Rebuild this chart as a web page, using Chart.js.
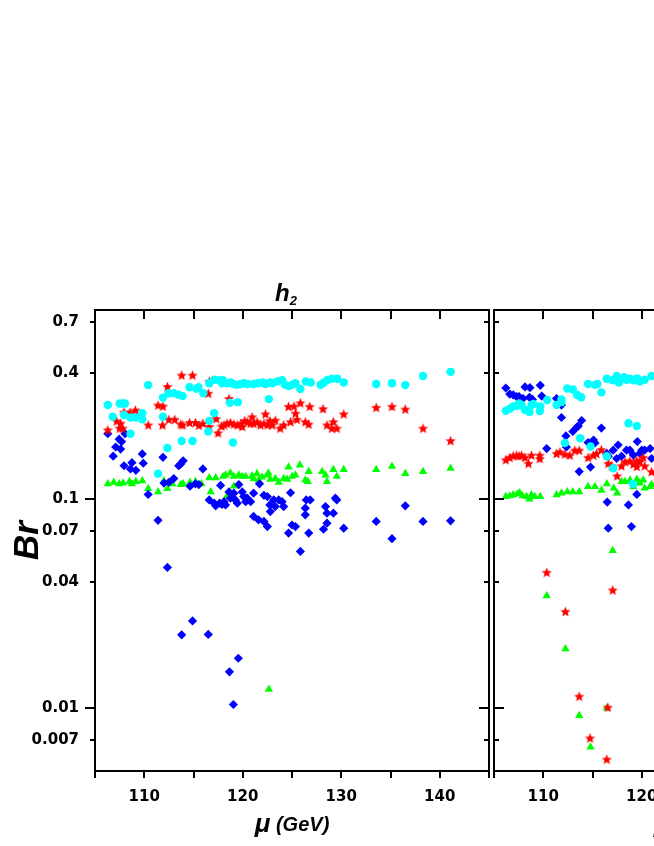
<!DOCTYPE html>
<html><head><meta charset="utf-8">
<script src="https://cdn.jsdelivr.net/npm/chart.js@4/dist/chart.umd.min.js"></script>
<style>
html,body{margin:0;padding:0;background:#fff;overflow:hidden;width:654px;height:846px;}
#wrap{position:relative;width:654px;height:846px;overflow:hidden;background:#fff;}
#wrap canvas{position:absolute;top:0;}
</style></head><body>
<div id="wrap">
<canvas id="c1" width="654" height="846" style="left:0px"></canvas>
<canvas id="c2" width="654" height="846" style="left:399px"></canvas>
</div>
<script>
// ---------- axes ----------
const xMin = 105, xMax = 145;
const yMin = 0.005, yMax = 0.8;
const xTickLabels = [110, 120, 130, 140];
const xTickMarks = [105, 110, 115, 120, 125, 130, 135, 140, 145];
const yTickLabels = [0.007, 0.01, 0.04, 0.07, 0.1, 0.4, 0.7];
const yDecades = [0.01, 0.1];

// ---------- left panel (h2) ----------
const h2Cyan = [[106.3,0.281],[106.8,0.247],[107.5,0.286],[107.8,0.286],[108.05,0.286],[107.95,0.252],[108.6,0.245],[109.1,0.245],[109.8,0.257],[109.8,0.240],[108.6,0.205],[110.4,0.350],[111.9,0.305],[112.45,0.32],[113.0,0.32],[113.5,0.315],[113.9,0.31],[114.6,0.342],[115.3,0.336],[115.5,0.342],[116.0,0.32],[116.6,0.357],[117.1,0.371],[117.6,0.369],[118.0,0.369],[111.9,0.247],[113.8,0.189],[114.9,0.189],[112.35,0.175],[111.4,0.132],[117.1,0.257],[116.6,0.236],[116.5,0.21],
[117.92,0.357],[118.43,0.357],[118.8,0.36],[119.1,0.354],[119.4,0.351],[119.78,0.354],[120.1,0.357],[120.5,0.354],[121.1,0.354],[121.5,0.357],[122.0,0.36],[122.3,0.354],[122.8,0.36],[123.0,0.357],[123.5,0.364],[124.0,0.369],[124.3,0.351],[124.7,0.346],[125.0,0.351],[125.35,0.357],[125.85,0.335],[126.4,0.364],[126.9,0.36],[127.9,0.351],[128.15,0.357],[128.55,0.369],[129.05,0.375],[129.6,0.375],[130.25,0.36],[118.7,0.288],[119.5,0.29],[122.65,0.30],[119.0,0.186],
[133.55,0.354],[135.15,0.357],[136.5,0.35],[138.3,0.387],[141.1,0.405]];
const h2Red = [[106.3,0.214],[107.2,0.236],[107.6,0.23],[107.5,0.218],[107.8,0.218],[107.95,0.26],[108.55,0.26],[109.1,0.266],[110.4,0.226],[111.4,0.281],[111.9,0.278],[112.35,0.345],[113.8,0.391],[114.9,0.391],[116.5,0.32],[116.6,0.365],[111.85,0.226],[112.5,0.24],[113.1,0.24],[113.7,0.228],[113.9,0.226],[114.6,0.232],[115.2,0.232],[115.55,0.225],[115.95,0.23],[116.6,0.222],[117.3,0.242],[117.5,0.207],[117.85,0.223],[118.1,0.226],
[118.4,0.23],[118.75,0.232],[119.1,0.228],[119.45,0.226],[119.8,0.23],[119.95,0.222],[120.2,0.237],[120.45,0.234],[120.8,0.23],[120.95,0.247],[121.1,0.23],[121.45,0.234],[121.8,0.226],[122.15,0.23],[122.3,0.255],[122.5,0.226],[122.75,0.237],[123.0,0.226],[123.3,0.238],[123.8,0.218],[124.15,0.226],[124.85,0.234],[125.35,0.257],[125.5,0.24],[125.85,0.288],[125.2,0.278],[124.65,0.277],[126.35,0.234],[126.7,0.228],[126.8,0.277],[128.15,0.27],[128.55,0.226],[129.2,0.234],[129.05,0.218],[129.55,0.218],[130.25,0.255],[118.6,0.302],
[133.55,0.274],[135.15,0.277],[136.5,0.269],[138.3,0.218],[141.1,0.19]];
const h2Green = [[106.3,0.118],[106.9,0.12],[107.45,0.118],[107.85,0.119],[108.5,0.121],[108.75,0.118],[109.15,0.121],[109.8,0.122],[110.4,0.112],[111.4,0.108],[112.0,0.122],[112.35,0.112],[112.85,0.118],[113.7,0.117],[113.95,0.118],[114.65,0.12],[115.2,0.121],[115.8,0.118],[116.6,0.126],[116.75,0.108],[117.25,0.126],[118.0,0.128],
[118.25,0.13],[118.75,0.133],[119.1,0.128],[119.6,0.13],[119.95,0.128],[120.3,0.128],[120.95,0.129],[121.1,0.125],[121.45,0.132],[121.6,0.123],[121.95,0.127],[122.5,0.13],[122.6,0.133],[122.8,0.124],[123.3,0.125],[123.65,0.12],[124.15,0.125],[124.5,0.124],[124.65,0.142],[125.0,0.128],[125.35,0.13],[125.8,0.145],[126.35,0.123],[126.6,0.121],[126.7,0.135],[128.05,0.135],[128.4,0.13],[128.55,0.121],[129.2,0.138],[129.55,0.128],[130.25,0.138],[119.1,0.115],[118.4,0.103],[119.0,0.104],
[133.55,0.138],[135.15,0.143],[136.5,0.132],[138.3,0.135],[141.1,0.14],[122.65,0.0123]];
const h2Blue = [[106.3,0.205],[107.45,0.193],[107.7,0.188],[108.05,0.205],[107.1,0.177],[107.6,0.173],[106.85,0.16],[107.95,0.144],[108.75,0.149],[108.6,0.139],[109.15,0.137],[109.9,0.148],[109.8,0.164],[111.9,0.158],[113.5,0.144],[113.95,0.152],[113.7,0.147],[115.95,0.139],[113.0,0.125],[112.0,0.119],[112.5,0.12],[110.4,0.105],[111.4,0.079],[114.65,0.115],[115.2,0.118],[115.55,0.117],[116.6,0.0989],[117.1,0.0954],[117.25,0.0926],[117.65,0.0954],[117.9,0.094],[117.75,0.116],[118.1,0.097],
[118.25,0.0936],[118.6,0.108],[118.75,0.1008],[119.1,0.1065],[119.25,0.0989],[119.45,0.0954],[119.6,0.117],[119.95,0.108],[120.1,0.1026],[120.3,0.097],[120.45,0.1008],[120.8,0.097],[121.1,0.1065],[121.7,0.118],[122.15,0.104],[122.5,0.1026],[122.75,0.0936],[122.8,0.087],[123.15,0.0989],[123.3,0.0919],[123.65,0.0989],[124.0,0.097],[124.15,0.0919],[124.85,0.107],[121.1,0.0824],[121.6,0.0794],[122.15,0.078],[122.5,0.0737],[125.0,0.075],[125.35,0.0737],[124.65,0.0686],[126.45,0.0989],[126.85,0.0989],[126.35,0.0903],[126.35,0.0839],[126.7,0.0686],[128.4,0.0919],[128.55,0.0854],[129.2,0.0854],[129.55,0.0989],[129.4,0.1008],[128.2,0.0716],[130.25,0.0724],[128.55,0.0765],
[125.85,0.0561],[112.35,0.047],[114.9,0.0261],[113.8,0.0224],[116.5,0.0225],[119.55,0.0173],[118.65,0.0149],[119.05,0.0104],
[136.5,0.0926],[133.55,0.078],[138.3,0.078],[141.1,0.0785],[135.15,0.0645]];

// ---------- right panel (partly visible) ----------
const p2Cyan = [[106.2,0.264],[106.6,0.27],[106.95,0.277],[107.3,0.278],[107.55,0.286],[107.8,0.281],[108.15,0.266],[108.6,0.26],[108.8,0.281],[109.0,0.284],[109.7,0.277],[109.65,0.263],[110.4,0.297],[111.35,0.281],[111.85,0.299],[111.85,0.29],[112.45,0.337],[113.0,0.334],[113.45,0.314],[113.85,0.306],[114.55,0.354],[115.25,0.351],[115.5,0.354],[115.9,0.323],[116.45,0.375],[117.05,0.369],[117.45,0.387],[117.7,0.36],[118.2,0.382],[118.45,0.371],[118.8,0.375],[119.15,0.369],[119.5,0.377],[119.8,0.364],[120.3,0.371],[121.0,0.387],[112.2,0.185],[113.75,0.195],[114.8,0.178],[116.45,0.16],[117.1,0.14],[118.65,0.23],[119.5,0.223],[119.1,0.118]];
const p2Red = [[106.2,0.154],[106.6,0.158],[106.95,0.161],[107.3,0.162],[107.55,0.161],[107.8,0.162],[108.15,0.158],[108.5,0.148],[108.8,0.162],[109.65,0.156],[109.65,0.162],[111.35,0.165],[111.7,0.168],[112.2,0.164],[112.7,0.162],[113.2,0.171],[113.65,0.171],[114.55,0.158],[115.1,0.162],[115.4,0.165],[115.9,0.172],[116.45,0.162],[116.6,0.148],[116.95,0.144],[117.5,0.129],[117.95,0.144],[118.3,0.151],[118.8,0.152],[119.15,0.147],[119.5,0.153],[119.8,0.151],[120.15,0.158],[119.5,0.143],[121.0,0.135],[120.3,0.144],
[110.35,0.0446],[117.05,0.0367],[112.25,0.029],[113.65,0.0114],[116.55,0.0101],[114.75,0.0072],[116.45,0.0057]];
const p2Green = [[106.2,0.1026],[106.6,0.1033],[106.95,0.1045],[107.35,0.1056],[107.6,0.107],[107.9,0.1033],[108.3,0.1026],[108.6,0.0997],[108.8,0.1045],[109.15,0.1026],[109.7,0.1026],[111.35,0.1045],[111.85,0.1065],[112.45,0.108],[113.0,0.108],[113.65,0.108],[114.55,0.1145],[115.25,0.1145],[115.9,0.11],[116.45,0.118],[117.15,0.1125],[117.5,0.1065],[117.95,0.121],[118.3,0.121],[118.8,0.123],[119.15,0.1145],[119.5,0.124],[119.8,0.119],[120.15,0.123],[120.3,0.1125],[120.85,0.1145],[121.0,0.117],
[117.05,0.0566],[110.35,0.0344],[112.25,0.0192],[113.65,0.0092],[116.45,0.01],[114.8,0.0065]];
const p2Blue = [[106.2,0.339],[106.6,0.317],[106.95,0.314],[107.3,0.308],[107.55,0.308],[107.95,0.302],[108.15,0.343],[108.65,0.34],[108.6,0.306],[108.9,0.299],[109.7,0.349],[109.85,0.31],[111.35,0.302],[111.85,0.281],[111.85,0.245],[110.35,0.174],[112.3,0.2],[112.35,0.177],[113.0,0.21],[113.4,0.22],[113.55,0.223],[113.9,0.237],[114.55,0.186],[115.1,0.191],[115.25,0.185],[115.9,0.218],[114.8,0.142],[113.65,0.135],[116.45,0.165],[117.1,0.171],[116.6,0.16],[117.6,0.181],[117.45,0.156],[117.95,0.16],[118.45,0.171],[118.8,0.171],[119.15,0.162],[119.55,0.188],[119.8,0.165],[120.0,0.171],[120.3,0.171],[120.85,0.174],[121.0,0.156],[116.5,0.0965],[119.5,0.105],[118.65,0.0936],[116.6,0.0724],[118.95,0.0737]];

// ---------- styles ----------
const CYAN = '#00FFFF', RED = '#FF0000', GREEN = '#00FF00', BLUE = '#0000FF';
function starImage(r, color) {
  const s = Math.ceil(r * 2 + 2);
  const c = document.createElement('canvas');
  c.width = s; c.height = s;
  const g = c.getContext('2d');
  g.fillStyle = color;
  g.beginPath();
  for (let i = 0; i < 10; i++) {
    const rr = i % 2 === 0 ? r : r * 0.45;
    const a = -Math.PI / 2 + i * Math.PI / 5;
    const px = s / 2 + rr * Math.cos(a), py = s / 2 + 0.6 + rr * Math.sin(a);
    if (i === 0) g.moveTo(px, py); else g.lineTo(px, py);
  }
  g.closePath(); g.fill();
  return c;
}
const STAR = starImage(5.4, RED);
const pts = arr => arr.map(p => ({x: p[0], y: p[1]}));

function datasets(cy, rd, bl, gr) {
  return [
    {label: 'cyan', data: pts(cy), pointStyle: 'circle', pointRadius: 4.2, backgroundColor: CYAN, borderWidth: 0, pointBorderWidth: 0},
    {label: 'red', data: pts(rd), pointStyle: STAR, backgroundColor: RED, borderWidth: 0},
    {label: 'blue', data: pts(bl), pointStyle: 'rectRot', pointRadius: 4.6, backgroundColor: BLUE, borderWidth: 0, pointBorderWidth: 0},
    {label: 'green', data: pts(gr), pointStyle: 'triangle', pointRadius: 4.8, backgroundColor: GREEN, borderWidth: 0, pointBorderWidth: 0}
  ];
}

const framePlugin = {
  id: 'frame',
  afterDatasetsDraw(chart, args, o) {
    const {ctx, chartArea: a} = chart;
    const x = chart.scales.x, y = chart.scales.y;
    ctx.save();
    ctx.strokeStyle = '#000';
    ctx.lineWidth = 2;
    ctx.lineCap = 'butt';
    ctx.strokeRect(a.left, a.top, a.right - a.left, a.bottom - a.top);
    ctx.beginPath();
    xTickMarks.forEach(v => {
      const px = Math.round(x.getPixelForValue(v));
      ctx.moveTo(px, a.bottom); ctx.lineTo(px, a.bottom + 7);
      if (v > xMin && v < xMax) { ctx.moveTo(px, a.top); ctx.lineTo(px, a.top + 9); }
    });
    yTickLabels.forEach(v => {
      const py = Math.round(y.getPixelForValue(v));
      const L = yDecades.includes(v) ? 10 : 5;
      if (o.outerLeft) { ctx.moveTo(a.left - L, py); ctx.lineTo(a.left, py); }
      else { ctx.moveTo(a.left, py); ctx.lineTo(a.left + L, py); }
      if (o.innerRight) { ctx.moveTo(a.right, py); ctx.lineTo(a.right - L, py); }
    });
    ctx.stroke();

    // x-axis title: μ (GeV)
    const cx = (a.left + a.right) / 2;
    const f1 = 'italic bold 26px "Liberation Sans", Arial, sans-serif';
    const f2 = 'italic bold 20px "Liberation Sans", Arial, sans-serif';
    ctx.fillStyle = '#000';
    ctx.textBaseline = 'alphabetic';
    ctx.textAlign = 'left';
    ctx.font = f1; const w1 = ctx.measureText('\u03bc').width;
    ctx.font = f2; const w2 = ctx.measureText(' (GeV)').width;
    let sx = cx - (w1 + w2) / 2;
    ctx.font = f1; ctx.fillText('\u03bc', sx, a.bottom + 61);
    ctx.font = f2; ctx.fillText(' (GeV)', sx + w1, a.bottom + 60);

    if (o.title) {
      ctx.font = 'italic bold 24px "Liberation Sans", Arial, sans-serif';
      const wh = ctx.measureText(o.title).width;
      ctx.font = 'italic bold 13px "Liberation Sans", Arial, sans-serif';
      const ws = ctx.measureText(o.sub).width;
      const tx = cx - (wh + ws) / 2 - 6;
      ctx.font = 'italic bold 24px "Liberation Sans", Arial, sans-serif';
      ctx.fillText(o.title, tx, a.top - 9);
      ctx.font = 'italic bold 13px "Liberation Sans", Arial, sans-serif';
      ctx.fillText(o.sub, tx + wh, a.top - 5);
    }
    ctx.restore();
  }
};

function makeConfig(ds, o) {
  return {
    type: 'scatter',
    data: {datasets: ds},
    options: {
      responsive: false, animation: false, devicePixelRatio: 1,
      layout: {padding: {left: 0, top: 310, right: 165, bottom: 0}},
      plugins: {legend: {display: false}, tooltip: {enabled: false}, frame: o},
      elements: {point: {hoverRadius: 4}},
      scales: {
        x: {
          type: 'linear', position: 'bottom', min: xMin, max: xMax,
          afterBuildTicks: s => { s.ticks = xTickLabels.map(v => ({value: v})); },
          afterFit: s => { s.height = 75; },
          grid: {display: false, drawTicks: false},
          border: {display: false},
          ticks: {color: '#000', padding: 17, maxRotation: 0, autoSkip: false,
                  font: {family: 'DejaVu Sans', size: 15, weight: 'bold'},
                  callback: v => String(v)}
        },
        y: {
          type: 'logarithmic', position: 'left', min: yMin, max: yMax,
          afterBuildTicks: s => { s.ticks = yTickLabels.map(v => ({value: v})); },
          afterFit: s => { s.width = 95; },
          grid: {display: false, drawTicks: false},
          border: {display: false},
          title: {display: o.outerLeft, text: 'Br', color: '#000', padding: {top: 7, bottom: 0},
                  font: {family: '"Liberation Sans", Arial, sans-serif', size: 35, weight: 'bold', style: 'italic'}},
          ticks: {display: o.outerLeft, color: '#000', padding: 16, autoSkip: false,
                  font: {family: 'DejaVu Sans', size: 15, weight: 'bold'},
                  callback: v => String(v)}
        }
      }
    },
    plugins: [framePlugin]
  };
}

new Chart(document.getElementById('c1'),
  makeConfig(datasets(h2Cyan, h2Red, h2Blue, h2Green), {outerLeft: true, innerRight: true, title: 'h', sub: '2'}));
new Chart(document.getElementById('c2'),
  makeConfig(datasets(p2Cyan, p2Red, p2Blue, p2Green), {outerLeft: false, innerRight: true, title: '', sub: ''}));
</script>
</body></html>
